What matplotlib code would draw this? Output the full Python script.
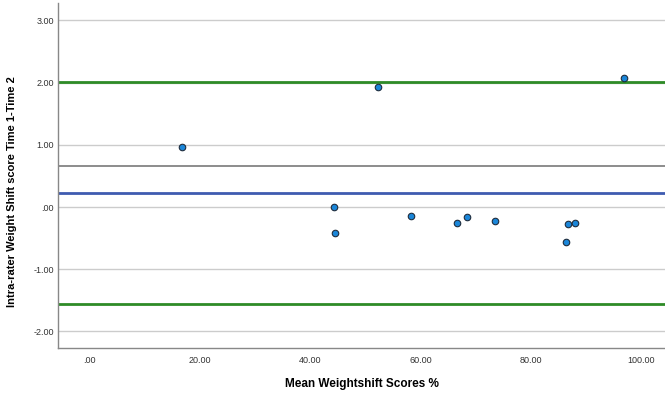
import matplotlib
matplotlib.use("Agg")
import matplotlib.pyplot as plt

# Bland-Altman style data
mean_scores = [16.8, 44.3, 44.5, 52.4, 58.3, 66.6, 68.5, 73.5, 86.4, 86.8, 88.0, 96.9]
diff_scores = [0.965, 0.005, -0.42, 1.924, -0.145, -0.257, -0.166, -0.225, -0.557, -0.273, -0.252, 2.07]

mean_diff = 0.225
upper_loa = 2.005
lower_loa = -1.565
ref_line = 0.654

x_ticks = [0, 20, 40, 60, 80, 100]
x_tick_labels = [".00", "20.00", "40.00", "60.00", "80.00", "100.00"]
y_ticks = [-2, -1, 0, 1, 2, 3]
y_tick_labels = ["-2.00", "-1.00", ".00", "1.00", "2.00", "3.00"]

plt.rcParams['font.family'] = ['Liberation Sans', 'DejaVu Sans']

fig = plt.figure(figsize=(6.65, 3.98), dpi=100)
ax = fig.add_axes([58 / 665, 50 / 398, 1 - 58 / 665, 345 / 398])

ax.set_xlim(-5.6, 104.3)
ax.set_ylim(-2.267, 3.28)

for yt in y_ticks:
    ax.axhline(yt, color="#cccccc", lw=1.0, zorder=1)

ax.axhline(ref_line, color="#8c8c8c", lw=1.4, zorder=2)
ax.axhline(mean_diff, color="#3f5bb0", lw=2.0, zorder=2)
ax.axhline(upper_loa, color="#2e8b27", lw=2.0, zorder=2)
ax.axhline(lower_loa, color="#2e8b27", lw=2.0, zorder=2)

ax.scatter(mean_scores, diff_scores, s=22, color="#1a86d9", edgecolor="#1f2d3d",
           linewidth=0.8, zorder=3)

ax.set_xticks(x_ticks)
ax.set_xticklabels(x_tick_labels, fontsize=6.5, color="#333333")
ax.set_yticks(y_ticks)
ax.set_yticklabels(y_tick_labels, fontsize=6.5, color="#333333")
ax.tick_params(axis="y", length=0, pad=3)
ax.tick_params(axis="x", length=0, pad=6)

for side in ["top", "right"]:
    ax.spines[side].set_visible(False)
for side in ["left", "bottom"]:
    ax.spines[side].set_color("#888888")
    ax.spines[side].set_linewidth(1.0)

ax.set_xlabel("Mean Weightshift Scores %", fontsize=8.5, fontweight="bold")
ax.xaxis.set_label_coords(0.5, -0.087)
ax.set_ylabel("Intra-rater Weight Shift score Time 1-Time 2", fontsize=8,
              fontweight="bold")
ax.yaxis.set_label_coords(-0.0675, 0.452)

fig.savefig("out.png", dpi=100)
